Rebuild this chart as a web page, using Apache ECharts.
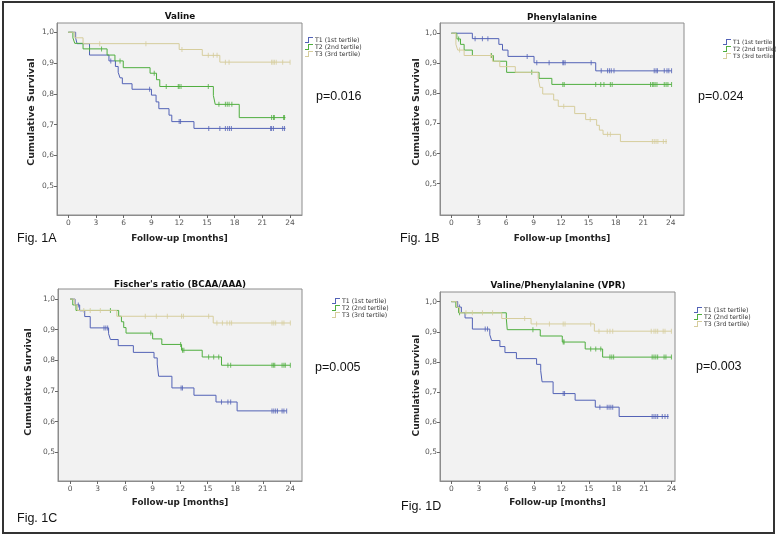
<!DOCTYPE html>
<html>
<head>
<meta charset="utf-8">
<script src="https://cdn.jsdelivr.net/npm/echarts@6/dist/echarts.min.js"></script>
<style>
html,body{margin:0;padding:0;background:#fff;}
#chart{width:776px;height:536px;}
</style>
</head>
<body>
<div id="chart"></div>
<script>
// ---------- data ----------
const xTicks = [0, 3, 6, 9, 12, 15, 18, 21, 24];
const yTicks = [0.5, 0.6, 0.7, 0.8, 0.9, 1.0];
const seriesNames = ['T1 (1st tertile)', 'T2 (2nd tertile)', 'T3 (3rd tertile)'];
const panelTitles = ['Valine', 'Phenylalanine', "Fischer's ratio (BCAA/AAA)", 'Valine/Phenylalanine (VPR)'];
const pValues = ['p=0.016', 'p=0.024', 'p=0.005', 'p=0.003'];
const figLabels = ['Fig. 1A', 'Fig. 1B', 'Fig. 1C', 'Fig. 1D'];
const xAxisTitle = 'Follow-up [months]';
const yAxisTitle = 'Cumulative Survival';

// Panel A (Valine)
const A_T1_time = [0, 0.8, 0.95, 2.3, 4.4, 5.1, 5.4, 5.6, 5.85, 6.9, 9.0, 9.5, 9.8, 10.9, 11.2, 13.6];
const A_T1_surv = [1.0, 0.981, 0.963, 0.926, 0.907, 0.889, 0.870, 0.852, 0.833, 0.815, 0.796, 0.774, 0.752, 0.731, 0.710, 0.688];
const A_T1_cens = [4.6, 8.8, 12.0, 12.15, 15.2, 16.4, 17.0, 17.25, 17.45, 17.65, 21.9, 22.0, 22.2, 23.2, 23.4];
const A_T1_end = 23.5;
const A_T2_time = [0, 0.5, 0.7, 1.6, 4.2, 5.05, 5.95, 8.85, 9.55, 9.9, 15.7, 15.9, 18.5];
const A_T2_surv = [1.0, 0.982, 0.964, 0.946, 0.926, 0.907, 0.885, 0.867, 0.846, 0.824, 0.795, 0.766, 0.723];
const A_T2_cens = [2.3, 3.6, 5.6, 9.3, 10.6, 11.9, 12.0, 12.2, 15.15, 16.3, 17.0, 17.2, 17.4, 17.7, 22.0, 22.2, 22.3, 23.3, 23.4];
const A_T2_end = 23.5;
const A_T3_time = [0, 0.7, 1.6, 12.0, 14.5, 16.4];
const A_T3_surv = [1.0, 0.982, 0.963, 0.944, 0.925, 0.903];
const A_T3_cens = [3.4, 8.4, 12.3, 15.15, 15.7, 16.1, 17.0, 17.4, 22.0, 22.15, 22.3, 22.5, 23.2, 24.0];
const A_T3_end = 24.0;

// Panel B (Phenylalanine)
const B_T1_time = [0, 2.3, 5.2, 5.6, 6.2, 9.05, 15.8];
const B_T1_surv = [1.0, 0.982, 0.963, 0.944, 0.923, 0.902, 0.875];
const B_T1_cens = [2.6, 3.4, 4.0, 8.3, 9.35, 10.7, 12.2, 12.3, 12.45, 15.3, 16.4, 17.1, 17.3, 17.5, 17.8, 22.2, 22.4, 22.55, 23.3, 23.6, 23.8, 24.1];
const B_T1_end = 24.1;
const B_T2_time = [0, 0.6, 1.0, 1.4, 2.3, 4.6, 6.05, 9.6, 11.0];
const B_T2_surv = [1.0, 0.981, 0.963, 0.944, 0.926, 0.907, 0.870, 0.850, 0.830];
const B_T2_cens = [0.8, 4.4, 8.8, 12.2, 12.35, 15.8, 16.35, 16.7, 17.4, 17.6, 21.8, 22.0, 22.15, 22.3, 22.5, 23.3, 23.5, 23.7, 24.1];
const B_T2_end = 24.1;
const B_T3_time = [0, 0.5, 0.7, 1.4, 4.5, 5.3, 7.0, 9.5, 9.7, 10.0, 11.2, 11.7, 13.5, 14.7, 15.9, 16.2, 16.6, 18.5];
const B_T3_surv = [1.0, 0.963, 0.944, 0.926, 0.907, 0.889, 0.870, 0.852, 0.820, 0.798, 0.778, 0.757, 0.733, 0.713, 0.694, 0.678, 0.664, 0.640];
const B_T3_cens = [0.9, 4.3, 12.3, 15.2, 17.1, 17.4, 22.0, 22.2, 22.4, 22.6, 23.2, 23.5];
const B_T3_end = 23.6;

// Panel C (Fischer's ratio)
const C_T1_time = [0, 0.55, 1.05, 1.6, 2.2, 4.2, 4.4, 5.25, 6.9, 9.15, 9.5, 9.65, 11.1, 13.5, 15.9, 18.2];
const C_T1_surv = [1.0, 0.981, 0.962, 0.943, 0.906, 0.887, 0.868, 0.848, 0.826, 0.808, 0.788, 0.748, 0.710, 0.686, 0.664, 0.635];
const C_T1_cens = [0.9, 3.7, 3.9, 4.1, 12.1, 12.25, 16.5, 17.2, 17.5, 22.0, 22.2, 22.4, 22.6, 23.1, 23.3, 23.6];
const C_T1_end = 23.6;
const C_T2_time = [0, 0.3, 0.65, 5.3, 5.6, 5.85, 6.1, 9.0, 10.0, 12.15, 14.4, 16.5];
const C_T2_surv = [1.0, 0.981, 0.963, 0.944, 0.926, 0.907, 0.889, 0.870, 0.852, 0.833, 0.811, 0.784];
const C_T2_cens = [4.4, 8.8, 12.05, 12.25, 12.4, 15.1, 15.65, 16.2, 17.2, 17.5, 22.0, 22.15, 22.3, 23.1, 23.3, 23.45, 24.0];
const C_T2_end = 24.0;
const C_T3_time = [0, 0.5, 0.8, 5.1, 15.6];
const C_T3_surv = [1.0, 0.981, 0.963, 0.944, 0.922];
const C_T3_cens = [1.5, 2.2, 3.3, 8.2, 9.4, 10.6, 12.15, 12.35, 15.1, 16.0, 16.6, 17.1, 17.4, 17.6, 22.0, 22.2, 22.4, 23.1, 23.3, 24.0];
const C_T3_end = 24.0;

// Panel D (VPR)
const D_T1_time = [0, 0.7, 1.1, 1.5, 2.3, 4.2, 4.4, 5.3, 5.85, 7.1, 9.3, 9.75, 9.9, 11.1, 13.5, 15.7, 18.3];
const D_T1_surv = [1.0, 0.982, 0.964, 0.946, 0.909, 0.890, 0.871, 0.851, 0.831, 0.811, 0.792, 0.771, 0.734, 0.695, 0.673, 0.650, 0.619];
const D_T1_cens = [0.9, 3.7, 3.95, 12.2, 12.35, 16.2, 17.0, 17.2, 17.4, 17.6, 21.9, 22.1, 22.3, 22.5, 23.0, 23.3, 23.6];
const D_T1_end = 23.7;
const D_T2_time = [0, 0.5, 0.8, 6.0, 6.1, 9.7, 12.1, 14.6, 16.5];
const D_T2_surv = [1.0, 0.981, 0.963, 0.944, 0.907, 0.886, 0.866, 0.843, 0.816];
const D_T2_cens = [0.9, 8.9, 12.2, 12.3, 15.2, 15.75, 16.3, 17.3, 17.5, 17.7, 21.9, 22.1, 22.3, 22.5, 23.2, 23.4, 24.0];
const D_T2_end = 24.0;
const D_T3_time = [0, 0.6, 0.9, 5.5, 8.7, 15.6];
const D_T3_surv = [1.0, 0.981, 0.963, 0.944, 0.926, 0.902];
const D_T3_cens = [1.6, 2.3, 3.4, 4.5, 8.0, 9.3, 10.7, 12.2, 12.4, 15.2, 16.1, 17.0, 17.3, 17.6, 21.8, 22.1, 22.3, 22.5, 23.1, 23.3, 24.0];
const D_T3_end = 24.0;

// ---------- assembly ----------
const panelData = [
  [[A_T1_time, A_T1_surv, A_T1_cens, A_T1_end], [A_T2_time, A_T2_surv, A_T2_cens, A_T2_end], [A_T3_time, A_T3_surv, A_T3_cens, A_T3_end]],
  [[B_T1_time, B_T1_surv, B_T1_cens, B_T1_end], [B_T2_time, B_T2_surv, B_T2_cens, B_T2_end], [B_T3_time, B_T3_surv, B_T3_cens, B_T3_end]],
  [[C_T1_time, C_T1_surv, C_T1_cens, C_T1_end], [C_T2_time, C_T2_surv, C_T2_cens, C_T2_end], [C_T3_time, C_T3_surv, C_T3_cens, C_T3_end]],
  [[D_T1_time, D_T1_surv, D_T1_cens, D_T1_end], [D_T2_time, D_T2_surv, D_T2_cens, D_T2_end], [D_T3_time, D_T3_surv, D_T3_cens, D_T3_end]]
];

const colors = ['#5262b6', '#4fae3f', '#d6cd9c'];

// layout (pixels / axis extents)
const layout = [
  {grid:{left:57, top:23, width:245, height:192}, xr:[-1.22, 25.29], yr:[0.407, 1.030], title:[180, 17], p:[316, 97], fig:[17, 239], leg:[305, 37], legFont:6.2, xGap:19, yGap:20, yShift:14, yFont:9.5},
  {grid:{left:440, top:23, width:244, height:192}, xr:[-1.24, 25.46], yr:[0.396, 1.034], title:[562, 18], p:[698, 97], fig:[400, 239], leg:[723, 39], legFont:5.8, xGap:19, yGap:16, yShift:14, yFont:9.5},
  {grid:{left:58, top:289, width:244, height:192}, xr:[-1.31, 25.27], yr:[0.406, 1.033], title:[180, 285], p:[315, 368], fig:[17, 519], leg:[332, 298], legFont:6.2, xGap:17, yGap:24, yShift:6, yFont:9.5},
  {grid:{left:440, top:292, width:235, height:189}, xr:[-1.23, 24.39], yr:[0.405, 1.032], title:[558, 286], p:[696, 367], fig:[401, 507], leg:[694, 307], legFont:6.2, xGap:17, yGap:18, yShift:2, yFont:9}
];

function survAt(times, survs, t) {
  let s = survs[0];
  for (let i = 0; i < times.length; i++) if (times[i] <= t) s = survs[i];
  return s;
}

const FONT = 'DejaVu Sans';
const STEP_ICON = 'path://M0,5 L3,5 L3,0 L8,0 L8,1 L4,1 L4,6 L0,6 Z';
const grids = [], xAxes = [], yAxes = [], series = [], legends = [], graphics = [];

layout.forEach((L, p) => {
  grids.push(Object.assign({show:true, backgroundColor:'#f2f2f2', borderColor:'#8c8c8c', borderWidth:1, containLabel:false}, L.grid));
  xAxes.push({
    type:'value', gridIndex:p, min:L.xr[0], max:L.xr[1],
    name:xAxisTitle, nameLocation:'middle', nameGap:L.xGap,
    nameTextStyle:{fontFamily:FONT, fontWeight:'bold', fontSize:8.8, color:'#222'},
    axisLine:{show:true, onZero:false, lineStyle:{color:'#8c8c8c', width:1}},
    axisTick:{show:true, length:3, customValues:xTicks, lineStyle:{color:'#666'}},
    axisLabel:{customValues:xTicks, fontFamily:FONT, fontSize:7.5, color:'#555', margin:4},
    splitLine:{show:false}
  });
  yAxes.push({
    type:'value', gridIndex:p, min:L.yr[0], max:L.yr[1],
    name:yAxisTitle, nameLocation:'middle', nameGap:L.yGap,
    nameTextStyle:{fontFamily:FONT, fontWeight:'bold', fontSize:L.yFont, color:'#222', padding:[0, 0, 0, L.yShift]},
    axisLine:{show:true, onZero:false, lineStyle:{color:'#8c8c8c', width:1}},
    axisTick:{show:true, length:3, customValues:yTicks, lineStyle:{color:'#666'}},
    axisLabel:{customValues:yTicks, fontFamily:FONT, fontSize:7.5, color:'#555', margin:3,
      formatter: v => v.toFixed(1).replace('.', ',')},
    splitLine:{show:false}
  });
  panelData[p].forEach((d, k) => {
    const [times, survs, cens, end] = d;
    const lineData = times.map((t, i) => [t, survs[i]]);
    lineData.push([end, survs[survs.length - 1]]);
    series.push({
      type:'line', name:seriesNames[k], xAxisIndex:p, yAxisIndex:p, step:'end',
      data:lineData, showSymbol:false, symbol:'none', color:colors[k],
      lineStyle:{width:1, color:colors[k]}, silent:true, z:2 + k
    });
    series.push({
      type:'scatter', name:'censored ' + seriesNames[k], xAxisIndex:p, yAxisIndex:p,
      data:cens.map(t => [t, survAt(times, survs, t)]),
      symbol:'rect', symbolSize:[1, 5], itemStyle:{color:colors[k]}, silent:true, z:2 + k
    });
  });
  legends.push({
    data:seriesNames.map((n, k) => ({name:n, icon:STEP_ICON, itemStyle:{color:colors[k], borderWidth:0}})),
    orient:'vertical', left:L.leg[0], top:L.leg[1], padding:0, itemGap:1,
    itemWidth:8, itemHeight:6,
    textStyle:{fontFamily:FONT, fontSize:L.legFont, color:'#333', padding:[0, 0, 0, -3]}, selectedMode:false
  });
  graphics.push({type:'text', x:L.title[0], y:L.title[1], style:{text:panelTitles[p], fontFamily:FONT, fontWeight:'bold', fontSize:8.8, fill:'#111', align:'center', verticalAlign:'middle'}});
  graphics.push({type:'text', x:L.p[0], y:L.p[1], style:{text:pValues[p], fontFamily:'Liberation Sans', fontSize:12.5, fill:'#111', align:'left', verticalAlign:'middle'}});
  graphics.push({type:'text', x:L.fig[0], y:L.fig[1], style:{text:figLabels[p], fontFamily:'Liberation Sans', fontSize:12.5, fill:'#111', align:'left', verticalAlign:'middle'}});
});

graphics.push({type:'rect', shape:{x:3, y:2, width:771, height:531}, style:{fill:'none', stroke:'#333', lineWidth:2}, z:100});

const chart = echarts.init(document.getElementById('chart'), null, {renderer:'canvas'});
chart.setOption({
  animation:false,
  backgroundColor:'#ffffff',
  grid:grids, xAxis:xAxes, yAxis:yAxes, series:series, legend:legends, graphic:graphics
});
</script>
</body>
</html>
